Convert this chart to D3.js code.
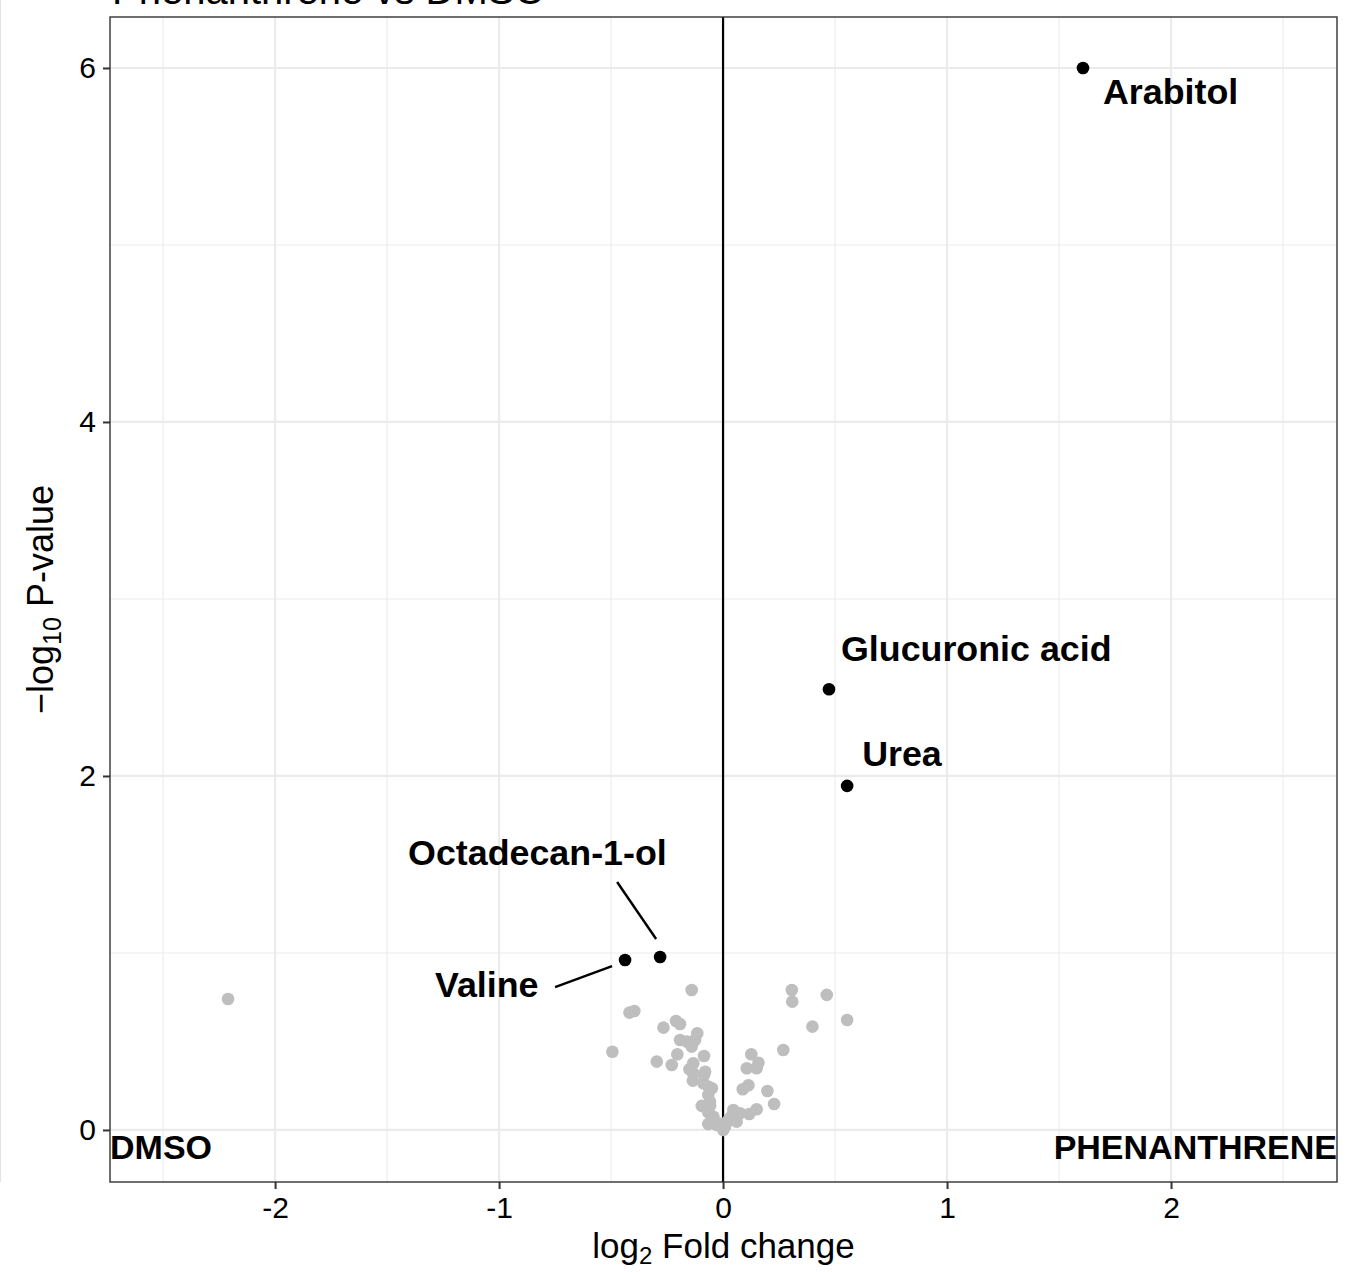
<!DOCTYPE html>
<html>
<head>
<meta charset="utf-8">
<script src="https://cdn.jsdelivr.net/npm/d3@7"></script>
<style>
  html, body { margin: 0; padding: 0; background: #fff; }
  svg { display: block; font-family: "Liberation Sans", Arial, Helvetica, sans-serif; }
</style>
</head>
<body>
<svg id="chart" width="1345" height="1272"></svg>
<script>
// Metabolites flagged as significant (log2 fold change, -log10 p)
const hitNames = ["Arabitol", "Glucuronic acid", "Urea", "Octadecan-1-ol", "Valine"];
const hitLogFC = [1.607, 0.473, 0.554, -0.281, -0.4375];
const hitLogP  = [6.00, 2.49, 1.944, 0.977, 0.960];

// Remaining metabolites (not significant)
const otherLogFC = [
  -2.21, -0.140, -0.418, -0.396, -0.494, -0.266, -0.210, -0.192, -0.115, -0.192,
  -0.162, -0.125, -0.140, -0.204, -0.296, -0.229, -0.085, -0.133, -0.150, -0.080,
  -0.135, -0.088, -0.066, -0.050, -0.066, -0.095, -0.058, -0.043, -0.066, -0.028,
   0.001,  0.046,  0.076,  0.061,  0.031,  0.117,  0.150,  0.228,  0.198,  0.088,
   0.113,  0.106,  0.150,  0.158,  0.126,  0.269,  0.399,  0.307,  0.309,  0.463,
   0.554,  0.009, -0.021, -0.050, -0.133, -0.085, -0.058, -0.066,  0.020,  0.040
];
const otherLogP = [
   0.740, 0.791, 0.663, 0.672, 0.442, 0.578, 0.616, 0.599, 0.546, 0.508,
   0.499, 0.508, 0.471, 0.428, 0.386, 0.367, 0.418, 0.377, 0.343, 0.329,
   0.279, 0.264, 0.245, 0.236, 0.198, 0.136, 0.136, 0.075, 0.034, 0.028,
   0.000, 0.113, 0.094, 0.047, 0.066, 0.090, 0.117, 0.147, 0.220, 0.230,
   0.253, 0.349, 0.349, 0.380, 0.428, 0.452, 0.584, 0.791, 0.725, 0.763,
   0.621, 0.019, 0.038, 0.066, 0.320, 0.310, 0.160, 0.100, 0.050, 0.080
];

const xTicks = [-2, -1, 0, 1, 2];
const yTicks = [0, 2, 4, 6];
const xMinor = [-2.5, -1.5, -0.5, 0.5, 1.5, 2.5];
const yMinor = [1, 3, 5];

const titleText = "Phenanthrene vs DMSO";
const groupLeft = "DMSO";
const groupRight = "PHENANTHRENE";

// Label placement (pixel offsets from each point; optional leader segment)
const labelLayout = {
  "Arabitol":        { dx: 20,   dy: 36 },
  "Glucuronic acid": { dx: 12,   dy: -28 },
  "Urea":            { dx: 15,   dy: -20 },
  "Octadecan-1-ol":  { dx: -252, dy: -92, seg: [-43, -75, -4, -18] },
  "Valine":          { dx: -190, dy: 37,  seg: [-70, 27, -13, 6] }
};

const hits = hitNames.map((n, i) => ({ name: n, x: hitLogFC[i], y: hitLogP[i] }));
const others = otherLogFC.map((v, i) => ({ x: v, y: otherLogP[i] }));

const svg = d3.select("#chart");
const panel = { left: 110, right: 1337, top: 17, bottom: 1182 };

const x = d3.scaleLinear().domain([-2.737, 2.741]).range([panel.left, panel.right]);
const y = d3.scaleLinear().domain([-0.294, 6.288]).range([panel.bottom, panel.top]);

// faint page edge rule
svg.append("line").attr("x1", 0.5).attr("x2", 0.5).attr("y1", 0).attr("y2", panel.bottom)
  .attr("stroke", "#e4e4e4").attr("stroke-width", 1);

const grid = svg.append("g");
grid.selectAll(".vminor").data(xMinor).join("line")
  .attr("x1", d => x(d)).attr("x2", d => x(d)).attr("y1", panel.top).attr("y2", panel.bottom)
  .attr("stroke", "#ebebeb").attr("stroke-width", 1.1);
grid.selectAll(".hminor").data(yMinor).join("line")
  .attr("y1", d => y(d)).attr("y2", d => y(d)).attr("x1", panel.left).attr("x2", panel.right)
  .attr("stroke", "#ebebeb").attr("stroke-width", 1.1);
grid.selectAll(".vmajor").data(xTicks).join("line")
  .attr("x1", d => x(d)).attr("x2", d => x(d)).attr("y1", panel.top).attr("y2", panel.bottom)
  .attr("stroke", "#ebebeb").attr("stroke-width", 2.2);
grid.selectAll(".hmajor").data(yTicks).join("line")
  .attr("y1", d => y(d)).attr("y2", d => y(d)).attr("x1", panel.left).attr("x2", panel.right)
  .attr("stroke", "#ebebeb").attr("stroke-width", 2.2);

// zero fold-change reference
svg.append("line").attr("x1", x(0)).attr("x2", x(0)).attr("y1", panel.top).attr("y2", panel.bottom)
  .attr("stroke", "#000").attr("stroke-width", 2.2);

// points
svg.append("g").selectAll("circle").data(others).join("circle")
  .attr("cx", d => x(d.x)).attr("cy", d => y(d.y)).attr("r", 6.3).attr("fill", "#bebebe");
svg.append("g").selectAll("circle").data(hits).join("circle")
  .attr("cx", d => x(d.x)).attr("cy", d => y(d.y)).attr("r", 6.3).attr("fill", "#000");

// labels and leader segments
const lab = svg.append("g");
hits.forEach(d => {
  const L = labelLayout[d.name];
  const px = x(d.x), py = y(d.y);
  if (L.seg) {
    lab.append("line")
      .attr("x1", px + L.seg[0]).attr("y1", py + L.seg[1])
      .attr("x2", px + L.seg[2]).attr("y2", py + L.seg[3])
      .attr("stroke", "#000").attr("stroke-width", 2.4);
  }
  lab.append("text").attr("x", px + L.dx).attr("y", py + L.dy)
    .attr("font-size", 35.8).attr("font-weight", "bold").attr("fill", "#000").text(d.name);
});

// group corner labels
svg.append("text").attr("x", panel.left).attr("y", 1159)
  .attr("font-size", 34).attr("font-weight", "bold").text(groupLeft);
svg.append("text").attr("x", panel.right).attr("y", 1159).attr("text-anchor", "end")
  .attr("font-size", 34).attr("font-weight", "bold").text(groupRight);

// panel border
svg.append("rect").attr("x", panel.left).attr("y", panel.top)
  .attr("width", panel.right - panel.left).attr("height", panel.bottom - panel.top)
  .attr("fill", "none").attr("stroke", "#333").attr("stroke-width", 1.4);

// axes
const xAxis = svg.append("g").attr("transform", `translate(0,${panel.bottom})`)
  .call(d3.axisBottom(x).tickValues(xTicks).tickSize(7).tickPadding(8).tickFormat(d3.format("d")));
const yAxis = svg.append("g").attr("transform", `translate(${panel.left},0)`)
  .call(d3.axisLeft(y).tickValues(yTicks).tickSize(7).tickPadding(7).tickFormat(d3.format("d")));
[xAxis, yAxis].forEach(a => {
  a.select(".domain").remove();
  a.selectAll(".tick line").attr("stroke", "#333").attr("stroke-width", 2);
  a.selectAll(".tick text").attr("fill", "#000").attr("font-size", 30)
    .attr("font-family", "'Liberation Sans', Arial, sans-serif");
});
xAxis.selectAll(".tick text").text(d => d < 0 ? "-" + Math.abs(d) : d);

// axis titles
const xt = svg.append("text").attr("x", (panel.left + panel.right) / 2).attr("y", 1258)
  .attr("text-anchor", "middle").attr("font-size", 35);
xt.append("tspan").text("log");
xt.append("tspan").attr("font-size", 24).attr("dy", 6).text("2");
xt.append("tspan").attr("dy", -6).text(" Fold change");

const yt = svg.append("text")
  .attr("transform", `translate(53,${(panel.top + panel.bottom) / 2}) rotate(-90)`)
  .attr("text-anchor", "middle").attr("font-size", 36);
yt.append("tspan").text("\u2212log");
yt.append("tspan").attr("font-size", 25).attr("dy", 8).text("10");
yt.append("tspan").attr("dy", -8).text(" P-value");

// title (sits mostly above the canvas)
svg.append("text").attr("x", 112).attr("y", 4).attr("font-size", 40).text(titleText);
</script>
</body>
</html>
